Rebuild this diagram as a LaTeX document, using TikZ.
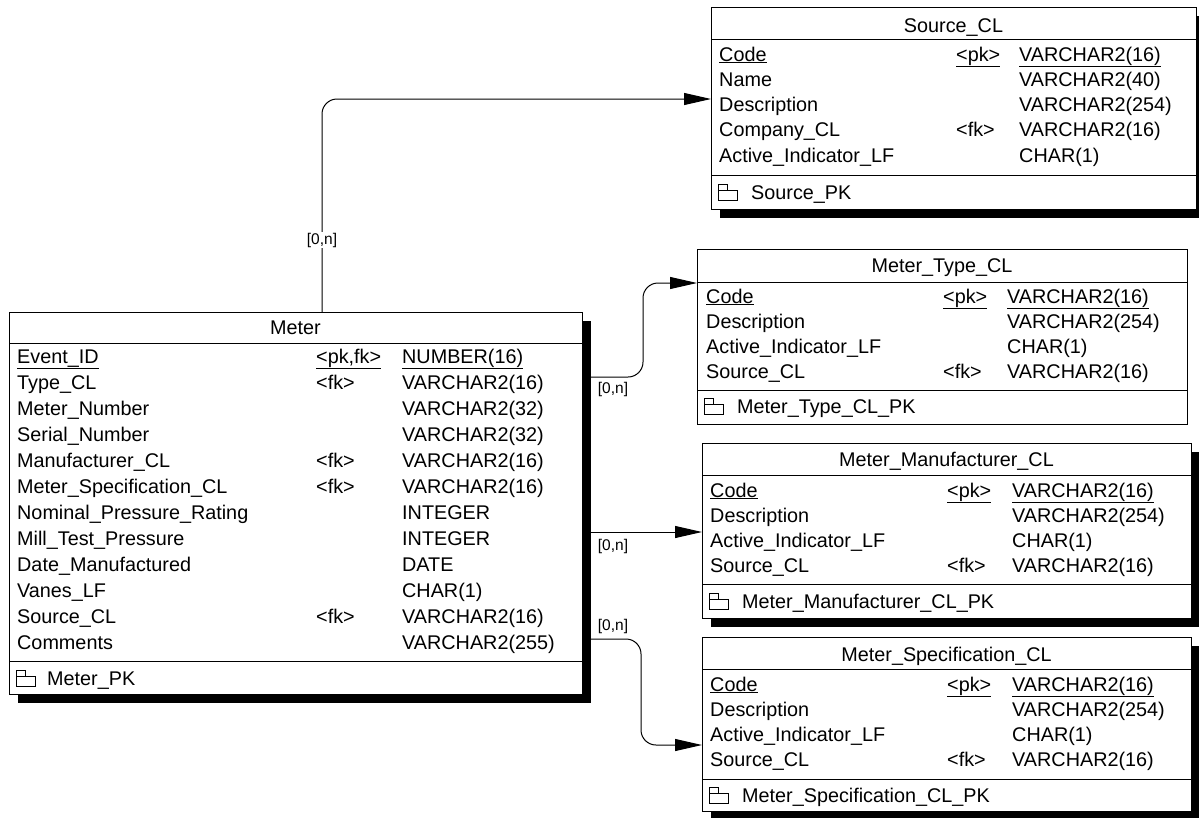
\documentclass[tikz,border=0pt]{standalone}
\usepackage{fontspec}
\setmainfont{Liberation Sans}
\usepackage{array}
\usetikzlibrary{arrows.meta, shadows}

\begin{document}
\begin{tikzpicture}[
    x=1pt, y=-1pt,
    font=\fontsize{19.8}{24}\selectfont,
    tbl/.style={draw, fill=white, line width=1pt, anchor=north west, inner sep=0pt},
    shd/.style={general shadow={fill=black, shadow xshift=8pt, shadow yshift=-8pt}},
    ttl/.style={anchor=base, inner sep=0pt},
    body/.style={anchor=base west, inner sep=0pt, font=\fontsize{19.8}{25.3}\selectfont},
    pkname/.style={anchor=base west, inner sep=0pt},
    sep/.style={line width=1pt},
    card/.style={font=\fontsize{15.5}{18}\selectfont, inner sep=1pt},
    rel/.style={line width=1pt, rounded corners=15pt, -{Triangle[length=27pt, width=12pt]}},
    pkicon/.pic={\draw[line width=0.8pt] (0,6) -- (0,0) -- (9,0) -- (9,6) (0,6) rectangle (19,16);}
  ]
  \useasboundingbox (0,0) rectangle (1199,817);

  % --- Meter ---
  \node[tbl, shd, minimum width=573pt, minimum height=382pt] (meter) at (9,312) {};
  \node[ttl] (meter-title) at (295.5,334) {Meter};
  \draw[sep] (9,343) -- (582,343);
  \node[body, font=\fontsize{19.8}{26}\selectfont] (meter-cols) at (17,363) {%
    \begin{tabular}[t]{@{}p{299pt}@{}p{86pt}@{}l@{}}
      \underline{Event\_ID} & \underline{<pk,fk>} & \underline{NUMBER(16)}\\
      Type\_CL & <fk> & VARCHAR2(16)\\
      Meter\_Number & & VARCHAR2(32)\\
      Serial\_Number & & VARCHAR2(32)\\
      Manufacturer\_CL & <fk> & VARCHAR2(16)\\
      Meter\_Specification\_CL & <fk> & VARCHAR2(16)\\
      Nominal\_Pressure\_Rating & & INTEGER\\
      Mill\_Test\_Pressure & & INTEGER\\
      Date\_Manufactured & & DATE\\
      Vanes\_LF & & CHAR(1)\\
      Source\_CL & <fk> & VARCHAR2(16)\\
      Comments & & VARCHAR2(255)
    \end{tabular}};
  \draw[sep] (9,661) -- (582,661);
  \pic at (16,670) {pkicon};
  \node[pkname] (meter-pk) at (47,685) {Meter\_PK};

  % --- Source_CL ---
  \node[tbl, shd, minimum width=485pt, minimum height=202pt] (source) at (711,7) {};
  \node[ttl] (source-title) at (953.5,32) {Source\_CL};
  \draw[sep] (711,39) -- (1196,39);
  \node[body] (source-cols) at (719,61) {%
    \begin{tabular}[t]{@{}p{237pt}@{}p{63pt}@{}l@{}}
      \underline{Code} & \underline{<pk>} & \underline{VARCHAR2(16)}\\
      Name & & VARCHAR2(40)\\
      Description & & VARCHAR2(254)\\
      Company\_CL & <fk> & VARCHAR2(16)\\
      Active\_Indicator\_LF & & CHAR(1)
    \end{tabular}};
  \draw[sep] (711,175) -- (1196,175);
  \pic at (718,184) {pkicon};
  \node[pkname] (source-pk) at (751,199) {Source\_PK};

  % --- Meter_Type_CL (ohne Schatten) ---
  \node[tbl, minimum width=490pt, minimum height=175pt] (mtype) at (697,249) {};
  \node[ttl] (mtype-title) at (942,272) {Meter\_Type\_CL};
  \draw[sep] (697,282) -- (1187,282);
  \node[body] (mtype-cols) at (706,303) {%
    \begin{tabular}[t]{@{}p{237pt}@{}p{64pt}@{}l@{}}
      \underline{Code} & \underline{<pk>} & \underline{VARCHAR2(16)}\\
      Description & & VARCHAR2(254)\\
      Active\_Indicator\_LF & & CHAR(1)\\
      Source\_CL & <fk> & VARCHAR2(16)
    \end{tabular}};
  \draw[sep] (697,390) -- (1187,390);
  \pic at (704,398) {pkicon};
  \node[pkname] (mtype-pk) at (737,413) {Meter\_Type\_CL\_PK};

  % --- Meter_Manufacturer_CL ---
  \node[tbl, shd, minimum width=489pt, minimum height=175pt] (manu) at (702,443) {};
  \node[ttl] (manu-title) at (946.5,466) {Meter\_Manufacturer\_CL};
  \draw[sep] (702,475) -- (1191,475);
  \node[body] (manu-cols) at (710,497) {%
    \begin{tabular}[t]{@{}p{237pt}@{}p{65pt}@{}l@{}}
      \underline{Code} & \underline{<pk>} & \underline{VARCHAR2(16)}\\
      Description & & VARCHAR2(254)\\
      Active\_Indicator\_LF & & CHAR(1)\\
      Source\_CL & <fk> & VARCHAR2(16)
    \end{tabular}};
  \draw[sep] (702,584) -- (1191,584);
  \pic at (709,593) {pkicon};
  \node[pkname] (manu-pk) at (742,608) {Meter\_Manufacturer\_CL\_PK};

  % --- Meter_Specification_CL ---
  \node[tbl, shd, minimum width=489pt, minimum height=174pt] (spec) at (702,637) {};
  \node[ttl] (spec-title) at (946.5,661) {Meter\_Specification\_CL};
  \draw[sep] (702,669) -- (1191,669);
  \node[body] (spec-cols) at (710,691) {%
    \begin{tabular}[t]{@{}p{237pt}@{}p{65pt}@{}l@{}}
      \underline{Code} & \underline{<pk>} & \underline{VARCHAR2(16)}\\
      Description & & VARCHAR2(254)\\
      Active\_Indicator\_LF & & CHAR(1)\\
      Source\_CL & <fk> & VARCHAR2(16)
    \end{tabular}};
  \draw[sep] (702,779) -- (1191,779);
  \pic at (709,787) {pkicon};
  \node[pkname] (spec-pk) at (742,802) {Meter\_Specification\_CL\_PK};

  % --- Beziehungen ---
  \draw[rel] ([xshift=313pt]meter.north west) |- ([yshift=-92pt]source.north west);
  \draw[rel] ([yshift=-65pt]meter.north east) -- ++(60,0) |- ([yshift=-34pt]mtype.north west);
  \draw[rel] ([yshift=-220pt]meter.north east) -- ([yshift=-89pt]manu.north west);
  \draw[rel] ([yshift=-327pt]meter.north east) -- ++(58,0) |- ([yshift=-108pt]spec.north west);

  % Kardinalitaeten
  \node[card, fill=white] (card-source) at (322,240) {[0,n]};
  \node[card] (card-mtype) at (613,389) {[0,n]};
  \node[card] (card-manu) at (613,546) {[0,n]};
  \node[card] (card-spec) at (613,626) {[0,n]};
\end{tikzpicture}
\end{document}
